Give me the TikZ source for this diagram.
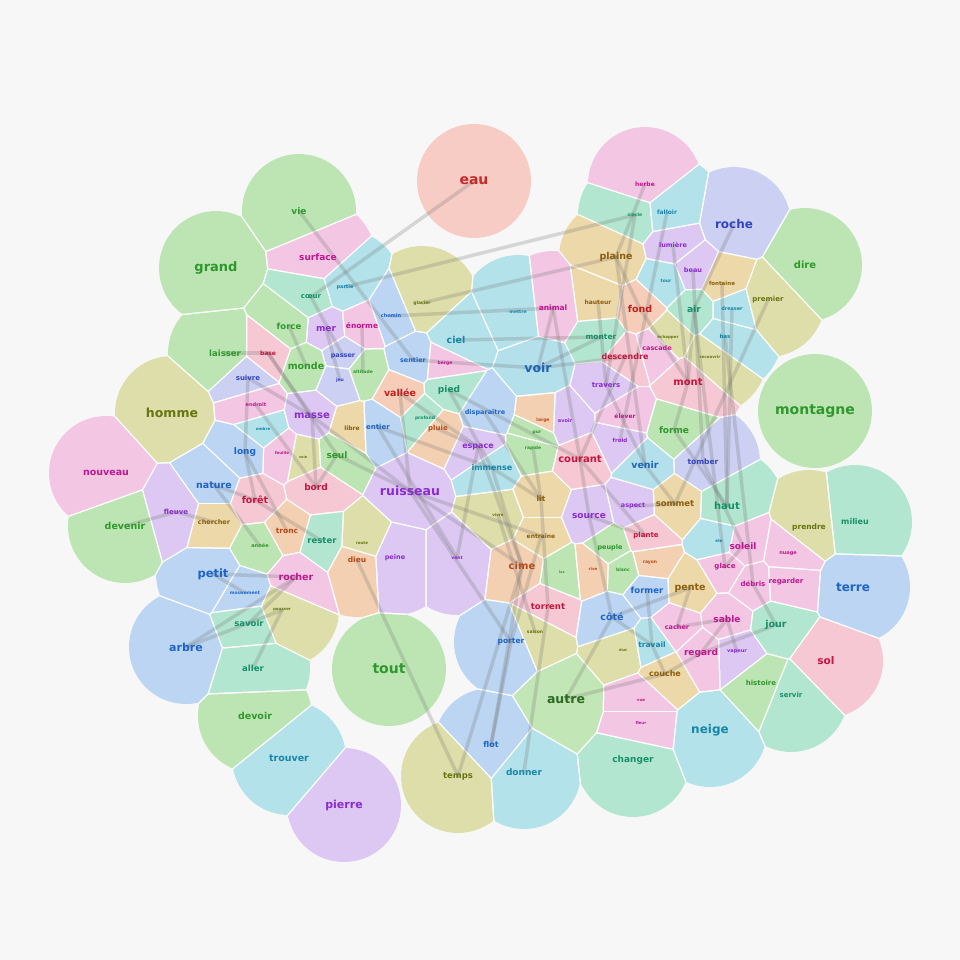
\documentclass[tikz,border=0pt]{standalone}
\usepackage{fontspec}
\setmainfont{DejaVu Sans}
\definecolor{bgc}{HTML}{F7F7F7}
\definecolor{Gf}{HTML}{BDE5B3}\definecolor{Gt}{HTML}{2F982C}
\definecolor{Mf}{HTML}{B3E6D0}\definecolor{Mt}{HTML}{15906A}
\definecolor{Cf}{HTML}{B4E2EA}\definecolor{Ct}{HTML}{1786A8}
\definecolor{Vf}{HTML}{B4E0EC}\definecolor{Vt}{HTML}{1E64B8}
\definecolor{Bf}{HTML}{BBD5F3}\definecolor{Bt}{HTML}{1E64C8}
\definecolor{Lf}{HTML}{CCD0F3}\definecolor{Lt}{HTML}{3344C2}
\definecolor{Pf}{HTML}{DCC8F2}\definecolor{Pt}{HTML}{8A2CCF}
\definecolor{Kf}{HTML}{F3C6E4}\definecolor{Kt}{HTML}{C0168E}
\definecolor{Rf}{HTML}{F6C8D3}\definecolor{Rt}{HTML}{C8143E}
\definecolor{Of}{HTML}{F4D0B3}\definecolor{Ot}{HTML}{B84A18}
\definecolor{Tf}{HTML}{EDD8A9}\definecolor{Tt}{HTML}{8A5E0E}
\definecolor{Yf}{HTML}{DDDEA9}\definecolor{Yt}{HTML}{667510}
\definecolor{Sf}{HTML}{F6CCC4}\definecolor{St}{HTML}{C82A2A}
\definecolor{Ff}{HTML}{F5CDB8}\definecolor{Ft}{HTML}{C41E1E}
\definecolor{Df}{HTML}{C2E6B5}\definecolor{Dt}{HTML}{2C6A22}
\def\vorsites{eau/474/181/S/14/eau,
vie/299/211/G/9/vie,
grand/216/268/G/13/grand,
surface/318/257/K/9/surface,
coeur/311/297/M/7/cœur,
partie/345/287/C/5/partie,
chemin/391/316/B/5/chemin,
glacier/422/303/Y/4.5/glacier,
ciel/456/340/C/9.5/ciel,
mettre/518/312/C/4.5/mettre,
animal/553/308/K/7.5/animal,
hauteur/598/302/T/6/hauteur,
plaine/616/257/T/9.5/plaine,
fond/640/309/F/9.5/fond,
herbe/645/184/K/6/herbe,
siecle/635/215/M/4.5/siècle,
falloir/667/212/C/6/falloir,
lumiere/673/245/P/6.5/lumière,
roche/734/224/L/12/roche,
beau/693/270/P/6.5/beau,
tour/666/281/C/4.5/tour,
fontaine/722/283/T/5.5/fontaine,
dire/805/265/G/10/dire,
premier/768/300/Y/7/premier,
air/694/309/M/9/air,
dresser/732/309/C/5/dresser,
bas/725/336/C/5.5/bas,
monter/601/337/M/7.5/monter,
echapper/668/337/Y/4/échapper,
cascade/657/348/K/6.5/cascade,
descendre/625/357/R/8/descendre,
recouvrir/710/357/Y/4/recouvrir,
travers/606/385/P/7/travers,
mont/688/382/R/10/mont,
elever/625/416/K/6/élever,
froid/620/440/P/5.5/froid,
forme/674/430/G/9/forme,
venir/645/465/V/9.5/venir,
tomber/703/462/L/7.5/tomber,
courant/580/459/R/10/courant,
avoir/565/421/P/5/avoir,
large/543/420/O/4.5/large,
pur/537/433/G/4.5/pur,
rapide/533/448/G/4.5/rapide,
immense/492/468/C/8/immense,
espace/478/447/P/8/espace,
disparaitre/485/413/B/6.5/disparaître,
pluie/438/429/O/7/pluie,
profond/425/418/M/4.5/profond,
pied/449/390/M/9/pied,
berge/445/363/K/4.5/berge,
sentier/413/360/B/6.5/sentier,
vallee/400/393/F/9.5/vallée,
voir/538/368/V/12.5/voir,
altitude/363/372/G/4.5/altitude,
passer/343/356/L/6.5/passer,
jeu/340/380/L/4.5/jeu,
mer/326/329/P/9/mer,
enorme/362/326/K/7.5/énorme,
force/289/326/G/8.5/force,
monde/306/366/G/9.5/monde,
base/268/353/R/6/base,
laisser/225/353/G/8.5/laisser,
suivre/248/378/L/7/suivre,
homme/172/413/Y/12.5/homme,
endroit/256/405/K/5/endroit,
ombre/263/429/C/4/ombre,
masse/312/416/P/10/masse,
libre/352/428/T/6/libre,
entier/378/427/B/7/entier,
long/245/452/B/9/long,
feuille/282/453/K/4/feuille,
voie/303/457/Y/3.5/voie,
seul/337/455/G/9/seul,
nature/214/485/B/9.5/nature,
nouveau/106/473/K/9.5/nouveau,
bord/316/487/R/9/bord,
foret/255/500/R/9.5/forêt,
ruisseau/410/491/P/12.5/ruisseau,
fleuve/176/512/P/7/fleuve,
devenir/125/526/G/9.5/devenir,
chercher/214/522/T/6.5/chercher,
tronc/287/531/O/7.5/tronc,
rester/322/541/M/8.5/rester,
annee/260/546/G/5/année,
route/362/543/Y/4/route,
dieu/357/560/O/7.5/dieu,
peine/395/558/P/6.5/peine,
vent/457/558/P/4.5/vent,
vivre/498/515/Y/4/vivre,
lit/541/499/T/7.5/lit,
entraine/541/536/T/6/entraîne,
source/589/516/P/9/source,
aspect/633/506/P/6.5/aspect,
sommet/675/504/T/8.5/sommet,
haut/727/506/M/10/haut,
plante/646/536/R/7/plante,
peuple/610/548/G/6.5/peuple,
rive/593/569/O/4/rive,
blanc/623/570/G/4.5/blanc,
rayon/650/563/O/4.5/rayon,
cime/522/566/O/10/cime,
lac/562/572/G/3.5/lac,
soleil/743/546/K/9/soleil,
ete/719/541/C/4/été,
nuage/788/554/K/5/nuage,
glace/725/567/K/7/glace,
debris/753/584/K/7/débris,
regarder/786/582/K/7/regarder,
prendre/809/527/Y/7.5/prendre,
milieu/855/522/M/8/milieu,
terre/853/587/B/12/terre,
pente/690/588/T/9.5/pente,
former/647/590/B/8.5/former,
cote/612/617/B/9.5/côté,
rocher/296/577/K/9.5/rocher,
mouvement/245/593/B/4.5/mouvement,
pousser/282/610/Y/4/pousser,
petit/213/574/B/11.5/petit,
savoir/249/623/M/8.5/savoir,
arbre/186/647/B/11/arbre,
aller/253/668/M/8.5/aller,
tout/389/669/G/14/tout,
torrent/548/607/R/8.5/torrent,
saison/535/632/Y/4.5/saison,
porter/511/642/B/7.5/porter,
cacher/677/627/K/6.5/cacher,
sable/727/619/K/9/sable,
jour/776/625/M/9.5/jour,
travail/652/645/C/7.5/travail,
etat/623/650/Y/3.5/état,
regard/701/653/K/9/regard,
vapeur/737/652/P/5/vapeur,
couche/665/674/T/8/couche,
histoire/761/683/G/7/histoire,
servir/791/695/M/7/servir,
sol/826/661/R/10.5/sol,
autre/566/699/D/12.5/autre,
vue/641/700/K/4/vue,
fleur/641/723/K/4/fleur,
neige/710/730/C/12/neige,
changer/633/760/M/9/changer,
flot/491/745/B/8/flot,
donner/524/772/C/9/donner,
temps/458/776/Y/8.5/temps,
devoir/255/716/G/9.5/devoir,
trouver/289/758/C/9.5/trouver,
pierre/344/805/P/11/pierre,
montagne/815/411/G/14/montagne}
\begin{document}
\begin{tikzpicture}[x=1pt,y=-1pt,
  link/.style={draw=black!55, line width=3.5pt, opacity=0.25, line cap=round},
  word/.style={inner sep=0pt}]
\fill[bgc] (0,0) rectangle (960,960);
\useasboundingbox (0,0) rectangle (960,960);
\foreach \nm/\px/\py/\cl/\fs/\tx in \vorsites {\fill[white] (\px,\py) circle (57);}
\foreach \nm/\px/\py/\cl/\fs/\tx in \vorsites {
  \coordinate (\nm) at (\px,\py);
  \begin{scope}
    \foreach \qn/\qx/\qy/\qc/\qs/\qt in \vorsites {
      \pgfmathsetmacro\dd{veclen(\qx-\px,\qy-\py)}
      \ifdim\dd pt<114pt\relax
        \ifdim\dd pt>0.5pt\relax
          \pgfmathsetmacro\ang{atan2(\qy-\py,\px-\qx)}
          \clip[shift={({(\px+\qx)/2},{(\py+\qy)/2})},rotate=\ang] (0.75,-400) rectangle (400,400);
        \fi
      \fi
    }
    \fill[fill=\cl f] (\px,\py) circle (57);
  \end{scope}
}
\foreach \la/\lb in {partie/siecle, eau/coeur, vie/sentier, chemin/animal, sentier/voir,
  glacier/plaine, plaine/venir, air/glace, bas/debris, siecle/travers, lumiere/mont,
  beau/tomber, fontaine/haut, premier/sommet, ciel/monter, voir/descendre, pied/courant,
  vallee/espace, entier/immense, masse/ruisseau, seul/bord, force/monde, mer/jeu,
  base/seul, suivre/long, endroit/bord, foret/rester, long/tronc, nature/annee,
  fleuve/chercher, petit/mouvement, arbre/rocher, savoir/pousser, dieu/temps,
  ruisseau/cime, lit/torrent, entraine/porter, cime/flot, donner/torrent, autre/cote,
  cote/pente, source/plante, aspect/sommet, courant/source, forme/haut, tomber/soleil,
  mont/forme, regard/jour, sable/cacher, couche/travail, vivre/saison, rapide/lit,
  immense/cime, espace/vent, herbe/plaine, falloir/froid, flot/porter, temps/cime,
  ruisseau/entraine, ruisseau/porter, vallee/ruisseau, masse/bord, seul/ruisseau,
  entier/vent, espace/cime, immense/lit, source/cote, courant/plante, venir/sommet,
  travers/venir, descendre/courant, monter/voir, animal/voir, fond/mont, plaine/fond,
  air/mont, dresser/haut, roche/air, laisser/base, base/masse, suivre/masse, long/foret,
  nature/foret, petit/rocher, arbre/savoir, savoir/rocher, aller/pousser, devenir/fleuve,
  sable/regard, jour/debris, regard/couche, vapeur/sable, glace/soleil, pente/cacher,
  former/travail, cote/travail, autre/couche, hauteur/travers, animal/courant,
  coeur/passer, enorme/altitude, pluie/espace, disparaitre/lit, pied/immense}
  {\draw[link] (\la) -- (\lb);}
\foreach \nm/\px/\py/\cl/\fs/\tx in \vorsites {
  \node[word, text=\cl t, font=\fontsize{\fs}{\fs}\selectfont\bfseries] (w\nm) at (\nm) {\tx};
}
\end{tikzpicture}
\end{document}
